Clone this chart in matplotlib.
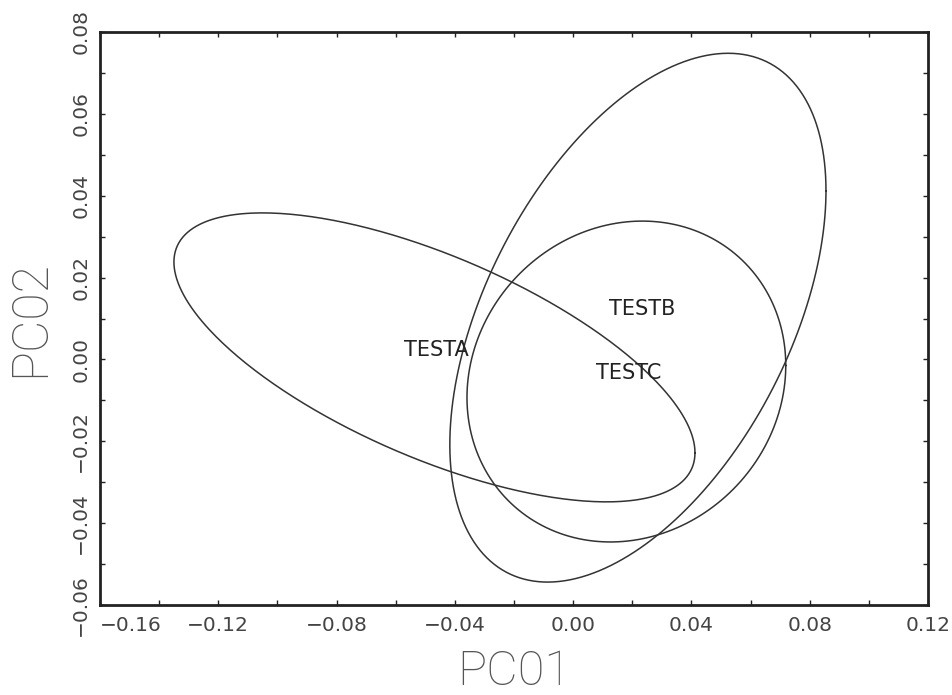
import numpy as np
import matplotlib.pyplot as plt
from matplotlib.ticker import FuncFormatter

# group ellipses (centre, half extent along x / y, correlation)
groups = ['TESTA', 'TESTB', 'TESTC']
center_x = [-0.0469, 0.0219, 0.0180]
center_y = [0.0005, 0.0102, -0.0054]
half_x = [0.0881, 0.0636, 0.0539]
half_y = [0.0353, 0.0646, 0.0392]
corr = [-0.66, 0.48, 0.10]

# where the group names sit
label_x = [-0.0462, 0.0233, 0.0189]
label_y = [0.0022, 0.0123, -0.0034]

# axis ticks
x_ticks = [-0.16, -0.12, -0.08, -0.04, 0.00, 0.04, 0.08, 0.12]
y_ticks = [-0.06, -0.04, -0.02, 0.00, 0.02, 0.04, 0.06, 0.08]


def ellipse_points(cx, cy, hx, hy, r, n=400):
    t = np.linspace(0, 2 * np.pi, n)
    x = cx + hx * np.cos(t)
    y = cy + hy * (r * np.cos(t) + np.sqrt(1 - r * r) * np.sin(t))
    return x, y


def fmt(v, pos):
    s = f"{v:.2f}"
    if s == "-0.00":
        s = "0.00"
    return s.replace('-', '\u2212')


fig = plt.figure(figsize=(9.53, 6.95), dpi=100)
ax = fig.add_axes([100 / 953, 1 - 605 / 695, 828 / 953, 573 / 695])

for i, g in enumerate(groups):
    x, y = ellipse_points(center_x[i], center_y[i], half_x[i], half_y[i], corr[i])
    ax.plot(x, y, color='#333333', lw=1.1)
    ax.text(label_x[i], label_y[i], g, ha='center', va='center',
            fontsize=15, color='#222222')

ax.set_xlim(-0.16, 0.12)
ax.set_ylim(-0.06, 0.08)
ax.set_xticks(x_ticks)
ax.set_yticks(y_ticks)
ax.set_xticks(np.arange(-0.14, 0.12, 0.04), minor=True)
ax.set_yticks(np.arange(-0.05, 0.08, 0.02), minor=True)
ax.xaxis.set_major_formatter(FuncFormatter(fmt))
ax.yaxis.set_major_formatter(FuncFormatter(fmt))

ax.tick_params(which='both', direction='in', top=True, right=True,
               length=3.6, width=1, color='#222222')
ax.tick_params(labelsize=14.5, labelcolor='#444444')
ax.tick_params(axis='x', pad=8)
ax.tick_params(axis='y', pad=7, labelrotation=90)
for s in ax.spines.values():
    s.set_linewidth(2)
    s.set_color('#222222')

for lab in ax.get_yticklabels():
    lab.set_verticalalignment('center')
    lab.set_rotation_mode('default')
ax.get_xticklabels()[0].set_horizontalalignment('left')

ax.set_xlabel('PC01', fontsize=35, color='#555555', family='Roboto',
              fontweight='light')
ax.set_ylabel('PC02', fontsize=36, color='#555555', family='Roboto',
              fontweight='light')
ax.xaxis.label.set_verticalalignment('baseline')
ax.xaxis.set_label_coords(0.5, -0.1396)
ax.yaxis.set_label_coords(-0.056, 0.5)

fig.savefig('out.png', dpi=100)
